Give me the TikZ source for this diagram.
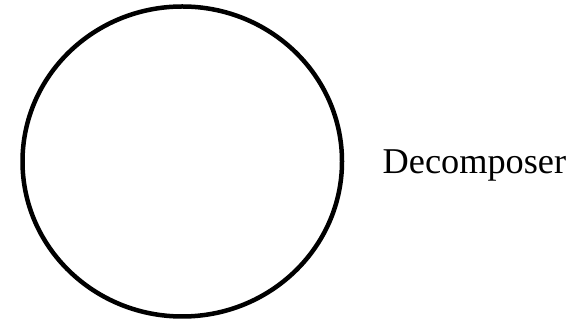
\documentclass[tikz,border=0pt]{standalone}
\usepackage{fontspec}
\setmainfont{Liberation Serif}
\begin{document}
\begin{tikzpicture}[x=1pt,y=1pt,
  ring/.style={draw=black,line width=4.5pt},
  lbl/.style={font=\fontsize{36.3}{40}\selectfont,inner sep=0pt}]
\useasboundingbox (0,0) rectangle (588,320);
\coordinate (c) at (182.25,158.5);
\draw[ring] (c) ellipse [x radius=159.75, y radius=155];
\node[lbl,anchor=base west] (t) at (382.5,146.8) {Decomposer};
\end{tikzpicture}
\end{document}
